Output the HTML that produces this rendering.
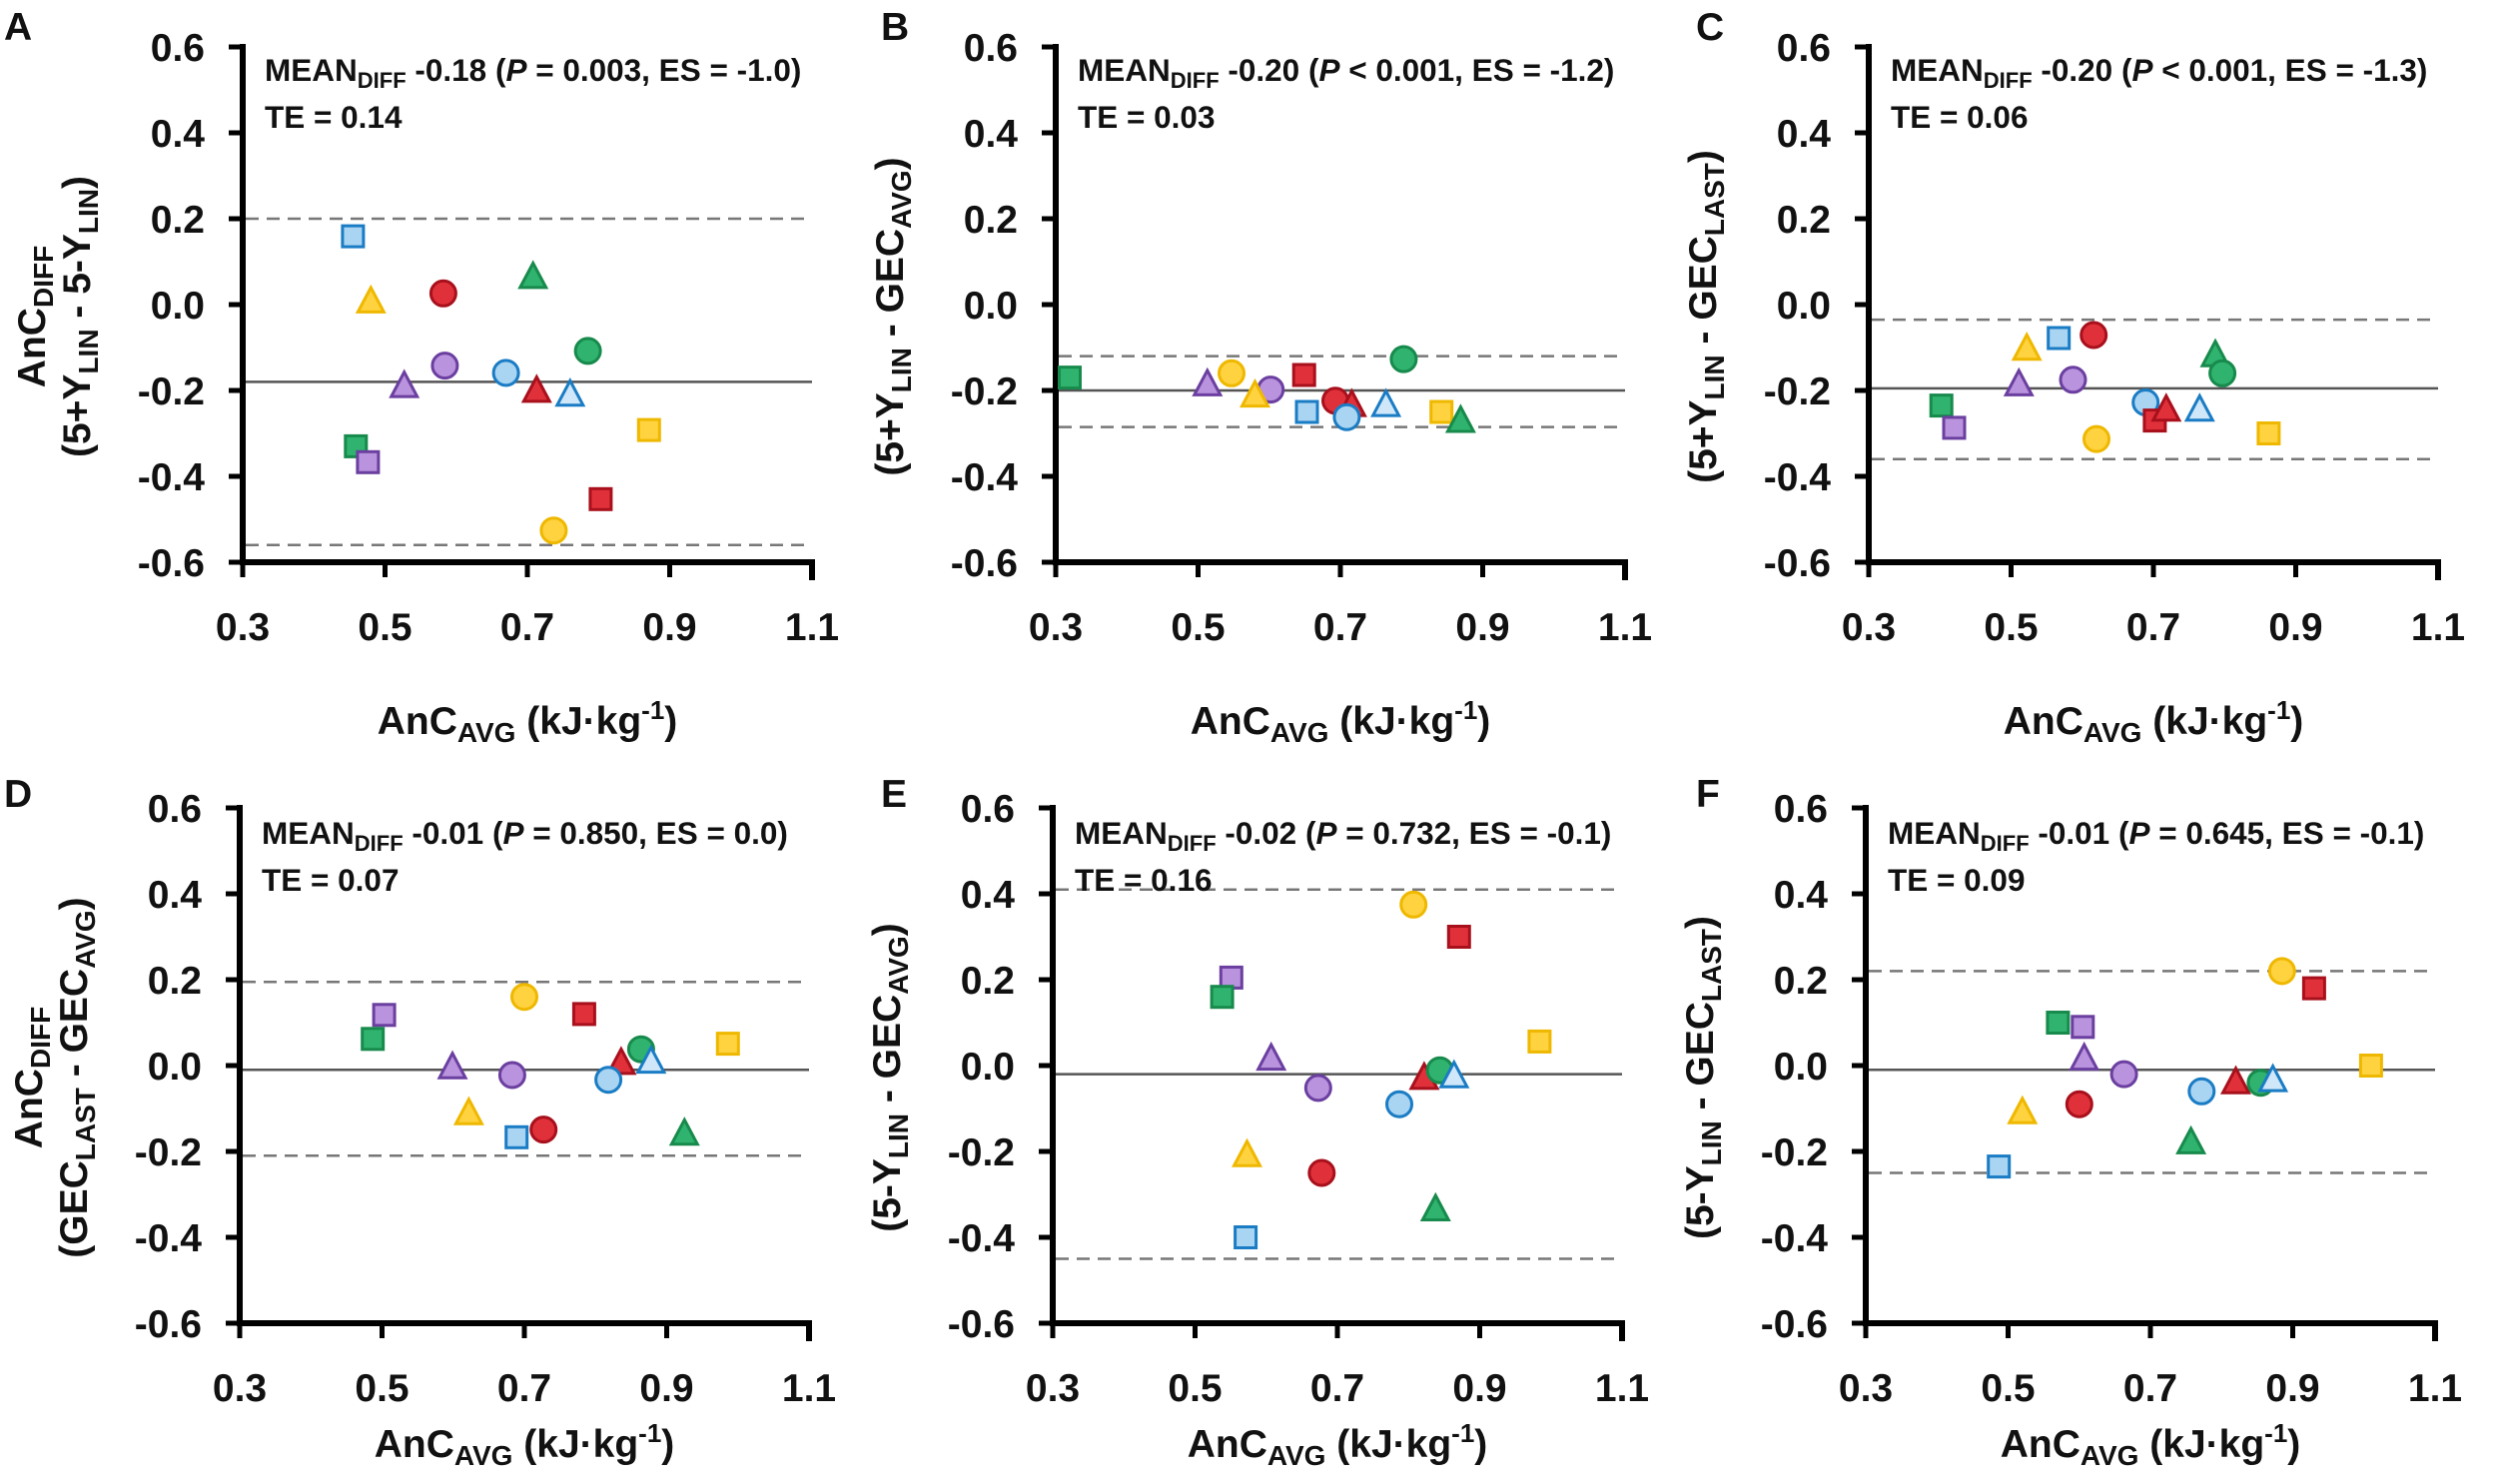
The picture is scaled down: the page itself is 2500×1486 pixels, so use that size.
<!DOCTYPE html>
<html><head><meta charset="utf-8"><style>
html,body{margin:0;padding:0;background:#fff}
svg{display:block}
text{font-family:"Liberation Sans",Arial,sans-serif;font-weight:bold;fill:#111}
.tk{font-size:39px}
.an{font-size:31.5px}
.lb{font-size:39px}
.ax{stroke:#000;stroke-width:6;fill:none;stroke-linecap:square}
.tc{stroke:#000;stroke-width:5}
.mn{stroke:#555;stroke-width:2.5}
.ds{stroke:#777;stroke-width:2.5;stroke-dasharray:13 8}
</style></head><body>
<svg width="2500" height="1486" viewBox="0 0 2500 1486" xmlns="http://www.w3.org/2000/svg">
<defs>
<g id="axes">
<path class="ax" d="M0,0 V516 H570 V531"/>
<path class="tc" d="M-14,0H0M-14,86H0M-14,172H0M-14,258H0M-14,344H0M-14,430H0M-14,516H0M0,516V531M142.5,516V531M285,516V531M427.5,516V531"/>
<g class="tk" text-anchor="end">
<text x="-38" y="14">0.6</text><text x="-38" y="100">0.4</text><text x="-38" y="186">0.2</text><text x="-38" y="272">0.0</text><text x="-38" y="358">-0.2</text><text x="-38" y="444">-0.4</text><text x="-38" y="530">-0.6</text>
</g>
<g class="tk" text-anchor="middle">
<text x="0" y="594">0.3</text><text x="142.5" y="594">0.5</text><text x="285" y="594">0.7</text><text x="427.5" y="594">0.9</text><text x="570" y="594">1.1</text>
</g>
</g>
<circle id="cb" r="12.5" fill="#a9d4f2" stroke="#1a7cc4" stroke-width="3"/>
<circle id="cy" r="12.5" fill="#ffd23f" stroke="#efb800" stroke-width="3"/>
<circle id="cr" r="12.5" fill="#e0313b" stroke="#a8101c" stroke-width="3"/>
<circle id="cg" r="12.5" fill="#2fb36f" stroke="#178a4c" stroke-width="3"/>
<circle id="cp" r="12.5" fill="#b993dd" stroke="#6b3fa0" stroke-width="3"/>
<rect id="sb" x="-10.5" y="-10.5" width="21" height="21" fill="#a9d4f2" stroke="#1a7cc4" stroke-width="3"/>
<rect id="sy" x="-10.5" y="-10.5" width="21" height="21" fill="#ffd23f" stroke="#efb800" stroke-width="3"/>
<rect id="sr" x="-10.5" y="-10.5" width="21" height="21" fill="#e0313b" stroke="#a8101c" stroke-width="3"/>
<rect id="sg" x="-10.5" y="-10.5" width="21" height="21" fill="#2fb36f" stroke="#178a4c" stroke-width="3"/>
<rect id="sp" x="-10.5" y="-10.5" width="21" height="21" fill="#b993dd" stroke="#6b3fa0" stroke-width="3"/>
<polygon id="tb" points="0,-14.5 13,10 -13,10" fill="#cfe7f8" stroke="#1a7cc4" stroke-width="3"/>
<polygon id="ty" points="0,-14.5 13,10 -13,10" fill="#ffd23f" stroke="#efb800" stroke-width="3"/>
<polygon id="tr" points="0,-14.5 13,10 -13,10" fill="#e0313b" stroke="#a8101c" stroke-width="3"/>
<polygon id="tg" points="0,-14.5 13,10 -13,10" fill="#2fb36f" stroke="#178a4c" stroke-width="3"/>
<polygon id="tp" points="0,-14.5 13,10 -13,10" fill="#b993dd" stroke="#6b3fa0" stroke-width="3"/>
</defs>

<text class="lb" x="4" y="40">A</text>
<text class="lb" x="882" y="40">B</text>
<text class="lb" x="1698" y="40">C</text>
<text class="lb" x="4" y="808">D</text>
<text class="lb" x="882" y="808">E</text>
<text class="lb" x="1698" y="808">F</text>

<!-- A -->
<g transform="translate(243,47)">
<line class="mn" x1="0" y1="335.4" x2="570" y2="335.4"/>
<line class="ds" x1="3" y1="172" x2="570" y2="172"/>
<line class="ds" x1="3" y1="498.8" x2="570" y2="498.8"/>
<use href="#axes"/>
<text class="an" x="22" y="34">MEAN<tspan font-size="22" dy="7">DIFF</tspan><tspan dy="-7"> -0.18 (</tspan><tspan font-style="italic">P</tspan> = 0.003, ES = -1.0)</text>
<text class="an" x="22" y="81">TE = 0.14</text>
<text class="lb" transform="translate(-198,270) rotate(-90)" text-anchor="middle">AnC<tspan font-size="28" dy="8">DIFF</tspan></text>
<text class="lb" transform="translate(-153,270) rotate(-90)" text-anchor="middle">(5+Y<tspan font-size="28" dy="8">LIN</tspan><tspan dy="-8"> - 5-Y</tspan><tspan font-size="28" dy="8">LIN</tspan><tspan dy="-8">)</tspan></text>
<text class="lb" x="285" y="688" text-anchor="middle">AnC<tspan font-size="28" dy="8">AVG</tspan><tspan dy="-8"> (kJ·kg</tspan><tspan font-size="26" dy="-15">-1</tspan><tspan dy="15">)</tspan></text>
<use href="#sb" x="110.4" y="189.6"/><use href="#ty" x="128.3" y="255.4"/><use href="#cr" x="200.9" y="246.8"/>
<use href="#tg" x="290.7" y="230.9"/><use href="#cg" x="345.6" y="304.4"/><use href="#cp" x="202.4" y="319.1"/>
<use href="#cb" x="263.6" y="326.4"/><use href="#tp" x="161.7" y="340.1"/><use href="#tr" x="294.3" y="344.9"/>
<use href="#tb" x="327.8" y="348.7"/><use href="#sy" x="406.8" y="383.6"/><use href="#sg" x="113.3" y="399.9"/>
<use href="#sp" x="125.4" y="415.8"/><use href="#sr" x="358.4" y="452.8"/><use href="#cy" x="311.4" y="484.2"/>
</g>

<!-- B -->
<g transform="translate(1057,47)">
<line class="mn" x1="0" y1="344" x2="570" y2="344"/>
<line class="ds" x1="3" y1="309.6" x2="570" y2="309.6"/>
<line class="ds" x1="3" y1="380.6" x2="570" y2="380.6"/>
<use href="#axes"/>
<text class="an" x="22" y="34">MEAN<tspan font-size="22" dy="7">DIFF</tspan><tspan dy="-7"> -0.20 (</tspan><tspan font-style="italic">P</tspan> &lt; 0.001, ES = -1.2)</text>
<text class="an" x="22" y="81">TE = 0.03</text>
<text class="lb" transform="translate(-153,270) rotate(-90)" text-anchor="middle">(5+Y<tspan font-size="28" dy="8">LIN</tspan><tspan dy="-8"> - GEC</tspan><tspan font-size="28" dy="8">AVG</tspan><tspan dy="-8">)</tspan></text>
<text class="lb" x="285" y="688" text-anchor="middle">AnC<tspan font-size="28" dy="8">AVG</tspan><tspan dy="-8"> (kJ·kg</tspan><tspan font-size="26" dy="-15">-1</tspan><tspan dy="15">)</tspan></text>
<use href="#sg" x="14" y="331.1"/><use href="#tp" x="151.8" y="338.4"/><use href="#cy" x="176" y="326.8"/>
<use href="#cp" x="215.2" y="343.1"/><use href="#ty" x="199.5" y="349.6"/><use href="#sr" x="248.7" y="328.5"/>
<use href="#sb" x="251.5" y="365.5"/><use href="#cr" x="280" y="354.3"/><use href="#tr" x="296.4" y="359.1"/>
<use href="#cb" x="291.4" y="370.7"/><use href="#tb" x="330.6" y="359.1"/><use href="#cg" x="348.4" y="312.6"/>
<use href="#sy" x="386.2" y="365.5"/><use href="#tg" x="405.4" y="375"/>
</g>

<!-- C -->
<g transform="translate(1871,47)">
<line class="mn" x1="0" y1="341.9" x2="570" y2="341.9"/>
<line class="ds" x1="3" y1="273.1" x2="570" y2="273.1"/>
<line class="ds" x1="3" y1="412.8" x2="570" y2="412.8"/>
<use href="#axes"/>
<text class="an" x="22" y="34">MEAN<tspan font-size="22" dy="7">DIFF</tspan><tspan dy="-7"> -0.20 (</tspan><tspan font-style="italic">P</tspan> &lt; 0.001, ES = -1.3)</text>
<text class="an" x="22" y="81">TE = 0.06</text>
<text class="lb" transform="translate(-153,270) rotate(-90)" text-anchor="middle">(5+Y<tspan font-size="28" dy="8">LIN</tspan><tspan dy="-8"> - GEC</tspan><tspan font-size="28" dy="8">LAST</tspan><tspan dy="-8">)</tspan></text>
<text class="lb" x="285" y="688" text-anchor="middle">AnC<tspan font-size="28" dy="8">AVG</tspan><tspan dy="-8"> (kJ·kg</tspan><tspan font-size="26" dy="-15">-1</tspan><tspan dy="15">)</tspan></text>
<use href="#sg" x="72.7" y="359.1"/><use href="#sp" x="85.5" y="381.4"/><use href="#tp" x="150.3" y="338.4"/>
<use href="#ty" x="158.2" y="302.7"/><use href="#sb" x="190.2" y="291.5"/><use href="#cp" x="204.5" y="333.3"/>
<use href="#cr" x="225.2" y="288.5"/><use href="#cy" x="228" y="392.6"/><use href="#cb" x="277.2" y="356"/>
<use href="#sr" x="286.4" y="374.1"/><use href="#tr" x="297.8" y="363.8"/><use href="#tb" x="331.3" y="363.8"/>
<use href="#tg" x="347" y="309.2"/><use href="#cg" x="354.1" y="326.8"/><use href="#sy" x="400.4" y="387"/>
</g>

<!-- D -->
<g transform="translate(240,809)">
<line class="mn" x1="0" y1="262.3" x2="570" y2="262.3"/>
<line class="ds" x1="3" y1="174.2" x2="570" y2="174.2"/>
<line class="ds" x1="3" y1="348.3" x2="570" y2="348.3"/>
<use href="#axes"/>
<text class="an" x="22" y="36">MEAN<tspan font-size="22" dy="7">DIFF</tspan><tspan dy="-7"> -0.01 (</tspan><tspan font-style="italic">P</tspan> = 0.850, ES = 0.0)</text>
<text class="an" x="22" y="83">TE = 0.07</text>
<text class="lb" transform="translate(-198,270) rotate(-90)" text-anchor="middle">AnC<tspan font-size="28" dy="8">DIFF</tspan></text>
<text class="lb" transform="translate(-153,270) rotate(-90)" text-anchor="middle">(GEC<tspan font-size="28" dy="8">LAST</tspan><tspan dy="-8"> - GEC</tspan><tspan font-size="28" dy="8">AVG</tspan><tspan dy="-8">)</tspan></text>
<text class="lb" x="285" y="650" text-anchor="middle">AnC<tspan font-size="28" dy="8">AVG</tspan><tspan dy="-8"> (kJ·kg</tspan><tspan font-size="26" dy="-15">-1</tspan><tspan dy="15">)</tspan></text>
<use href="#sp" x="144.6" y="207.3"/><use href="#sg" x="133.2" y="231.3"/><use href="#cy" x="285" y="189.2"/>
<use href="#sr" x="344.9" y="206.4"/><use href="#sy" x="488.8" y="236.1"/><use href="#cg" x="401.9" y="241.7"/>
<use href="#tr" x="381.9" y="255.9"/><use href="#tb" x="411.8" y="254.6"/><use href="#tp" x="213" y="260.2"/>
<use href="#cp" x="272.9" y="267.5"/><use href="#cb" x="369.1" y="272.2"/><use href="#ty" x="229.4" y="306.2"/>
<use href="#sb" x="277.2" y="329.8"/><use href="#cr" x="304.2" y="322.1"/><use href="#tg" x="445.3" y="326.8"/>
</g>

<!-- E -->
<g transform="translate(1054,809)">
<line class="mn" x1="0" y1="266.6" x2="570" y2="266.6"/>
<line class="ds" x1="3" y1="81.7" x2="570" y2="81.7"/>
<line class="ds" x1="3" y1="451.5" x2="570" y2="451.5"/>
<use href="#axes"/>
<text class="an" x="22" y="36">MEAN<tspan font-size="22" dy="7">DIFF</tspan><tspan dy="-7"> -0.02 (</tspan><tspan font-style="italic">P</tspan> = 0.732, ES = -0.1)</text>
<text class="an" x="22" y="83">TE = 0.16</text>
<text class="lb" transform="translate(-153,270) rotate(-90)" text-anchor="middle">(5-Y<tspan font-size="28" dy="8">LIN</tspan><tspan dy="-8"> - GEC</tspan><tspan font-size="28" dy="8">AVG</tspan><tspan dy="-8">)</tspan></text>
<text class="lb" x="285" y="650" text-anchor="middle">AnC<tspan font-size="28" dy="8">AVG</tspan><tspan dy="-8"> (kJ·kg</tspan><tspan font-size="26" dy="-15">-1</tspan><tspan dy="15">)</tspan></text>
<use href="#cy" x="361.2" y="96.8"/><use href="#sr" x="406.8" y="129"/><use href="#sp" x="178.8" y="169.9"/>
<use href="#sg" x="169.6" y="189.2"/><use href="#tp" x="218.7" y="251.6"/><use href="#sy" x="487.4" y="233.9"/>
<use href="#cp" x="265.8" y="280.4"/><use href="#tr" x="371.9" y="270.9"/><use href="#cg" x="387.6" y="262.7"/>
<use href="#tb" x="401.8" y="269.2"/><use href="#cb" x="347" y="296.7"/><use href="#ty" x="194.5" y="348.3"/>
<use href="#cr" x="269.3" y="365.5"/><use href="#tg" x="383.3" y="402.5"/><use href="#sb" x="193.1" y="430"/>
</g>

<!-- F -->
<g transform="translate(1868,809)">
<line class="mn" x1="0" y1="262.3" x2="570" y2="262.3"/>
<line class="ds" x1="3" y1="163.4" x2="570" y2="163.4"/>
<line class="ds" x1="3" y1="365.5" x2="570" y2="365.5"/>
<use href="#axes"/>
<text class="an" x="22" y="36">MEAN<tspan font-size="22" dy="7">DIFF</tspan><tspan dy="-7"> -0.01 (</tspan><tspan font-style="italic">P</tspan> = 0.645, ES = -0.1)</text>
<text class="an" x="22" y="83">TE = 0.09</text>
<text class="lb" transform="translate(-153,270) rotate(-90)" text-anchor="middle">(5-Y<tspan font-size="28" dy="8">LIN</tspan><tspan dy="-8"> - GEC</tspan><tspan font-size="28" dy="8">LAST</tspan><tspan dy="-8">)</tspan></text>
<text class="lb" x="285" y="650" text-anchor="middle">AnC<tspan font-size="28" dy="8">AVG</tspan><tspan dy="-8"> (kJ·kg</tspan><tspan font-size="26" dy="-15">-1</tspan><tspan dy="15">)</tspan></text>
<use href="#cy" x="416.8" y="163.4"/><use href="#sr" x="448.9" y="180.6"/><use href="#sg" x="192.4" y="215"/>
<use href="#sp" x="217.3" y="219.3"/><use href="#tp" x="218.7" y="251.6"/><use href="#sy" x="505.9" y="258"/>
<use href="#cp" x="258.6" y="266.6"/><use href="#tr" x="370.5" y="275.2"/><use href="#cg" x="395.4" y="275.2"/>
<use href="#tb" x="407.6" y="273.1"/><use href="#cb" x="336.3" y="283.8"/><use href="#cr" x="213.8" y="296.7"/>
<use href="#ty" x="156.8" y="305.3"/><use href="#tg" x="325.6" y="335.4"/><use href="#sb" x="133.2" y="359.1"/>
</g>
</svg>
</body></html>
